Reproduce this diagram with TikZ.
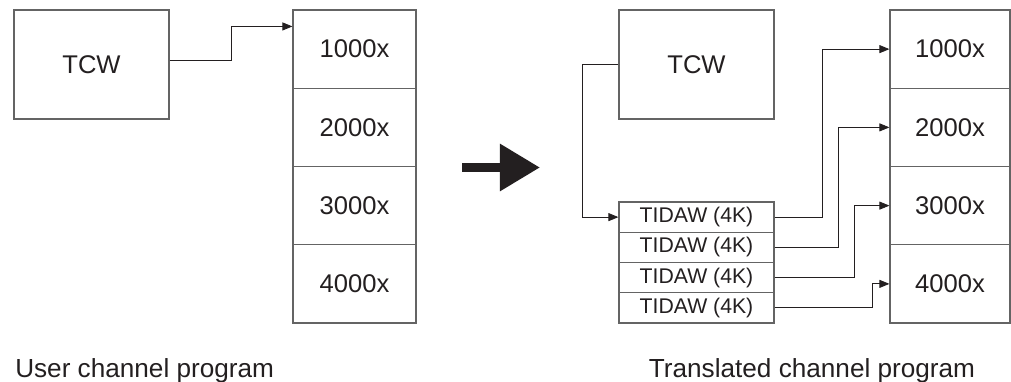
\documentclass[tikz,border=0pt]{standalone}
\usepackage{fontspec}
\setmainfont{Liberation Sans}
\usetikzlibrary{arrows.meta}
\definecolor{boxgray}{RGB}{100,100,100}
\definecolor{inkblack}{RGB}{35,31,32}

\begin{document}
\begin{tikzpicture}[x=0.025cm, y=-0.025cm,
    tcw/.style={rectangle, draw=boxgray, line width=0.8pt, inner sep=0pt,
                minimum width=3.875cm, minimum height=2.725cm,
                text=inkblack, font=\fontsize{18.2}{20}\selectfont},
    cell/.style={rectangle, draw=boxgray, line width=0.8pt, inner sep=0pt,
                minimum height=1.956cm, text=inkblack, font=\fontsize{18.2}{20}\selectfont},
    tidaw/.style={rectangle, draw=boxgray, line width=0.8pt, inner sep=0pt,
                minimum width=3.875cm, minimum height=0.756cm,
                text=inkblack, font=\fontsize{15.1}{16}\selectfont},
    link/.style={-{Triangle[length=0.25cm,width=0.2cm]}, line width=0.6pt, inkblack},
    caption/.style={inner sep=0pt, text=inkblack, font=\fontsize{18.6}{20}\selectfont}
]
    \useasboundingbox (0,0) rectangle (1011,381);

    % User channel program
    \node[tcw] (tcwL) at (91.5,64.5) {TCW};
    \foreach \i/\t in {1/1000x,2/2000x,3/3000x,4/4000x}
        \node[cell, minimum width=3.075cm] (lc\i) at (354.5,{10+78.25*(\i-0.5)}) {\t};

    % Translated channel program
    \node[tcw] (tcwR) at (696.5,64.5) {TCW};
    \foreach \i/\t in {1/1000x,2/2000x,3/3000x,4/4000x}
        \node[cell, minimum width=3cm] (rc\i) at (950,{10+78.25*(\i-0.5)}) {\t};
    \foreach \i in {1,...,4}
        \node[tidaw] (td\i) at (696.5,{202+30.25*(\i-0.5)}) {TIDAW (4K)};

    % Connectors
    \draw[link] ([yshift=0.11cm]tcwL.east) -- ++(62,0) |- ([yshift=-0.425cm]lc1.north west);
    \draw[link] (tcwR.west) -- ++(-36,0) |- (td1.west);
    \foreach \i/\dx in {1/48,2/64,3/80,4/98}
        \draw[link] (td\i.east) -- ++(\dx,0) |- (rc\i.west);

    % Big arrow
    \coordinate (bigtail) at (462,167.5);
    \coordinate (bighead) at (540,167.5);
    \draw[line width=0.225cm, inkblack, -{Triangle[length=1cm,width=1.125cm]}] (bigtail) -- (bighead);

    % Captions
    \node[caption, anchor=base west] (userlbl) at (15,377) {User channel program};
    \node[caption, anchor=base] (translbl) at (812,377) {Translated channel program};
\end{tikzpicture}
\end{document}
